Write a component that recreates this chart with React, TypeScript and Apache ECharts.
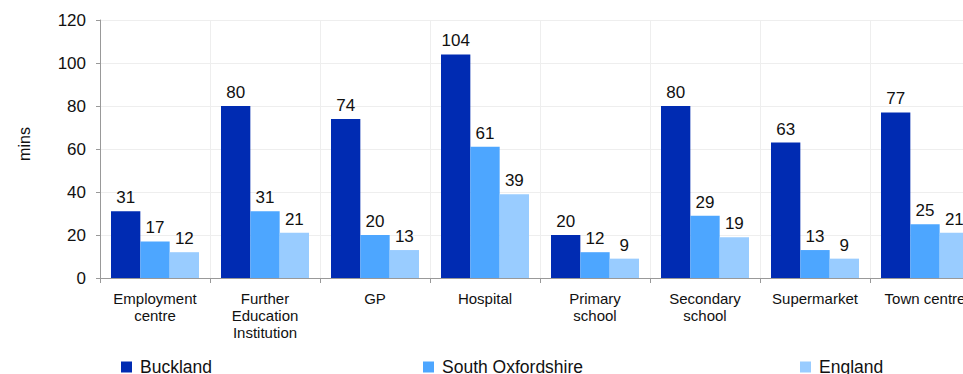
import React, { useEffect, useRef } from "react";
import * as echarts from "echarts";

const categories = [
  "Employment\ncentre",
  "Further\nEducation\nInstitution",
  "GP",
  "Hospital",
  "Primary\nschool",
  "Secondary\nschool",
  "Supermarket",
  "Town centre",
];
const buckland = [31, 80, 74, 104, 20, 80, 63, 77];
const southOxfordshire = [17, 31, 20, 61, 12, 29, 13, 25];
const england = [12, 21, 13, 39, 9, 19, 9, 21];
const seriesNames = ["Buckland", "South Oxfordshire", "England"];
const colors = ["#002BB2", "#4DA6FF", "#99CCFF"];

export default function App() {
  const ref = useRef<HTMLDivElement>(null);
  useEffect(() => {
    document.body.style.margin = "0";
    document.body.style.overflow = "hidden";
    const chart = echarts.init(ref.current!, null, { renderer: "svg" });
    const font = "'Liberation Sans', Arial, sans-serif";
    const mk = (name: string, data: number[], color: string) => ({
      name,
      type: "bar",
      data,
      barGap: "0%",
      barCategoryGap: "20%",
      itemStyle: { color },
      label: {
        show: true,
        position: "top",
        distance: 5,
        fontSize: 17,
        fontFamily: font,
        color: "#111",
      },
    });
    const legendLefts = [121, 423, 800];
    chart.setOption({
      animation: false,
      textStyle: { fontFamily: font },
      grid: { left: 100, right: 0, top: 20, bottom: 96 },
      legend: seriesNames.map((n, i) => ({
        data: [n],
        left: legendLefts[i],
        top: 358,
        padding: 0,
        icon: "rect",
        itemWidth: 11,
        itemHeight: 11,
        textStyle: {
          fontSize: 17.5,
          fontFamily: font,
          color: "#111",
          padding: [0, 0, 0, 3],
        },
        selectedMode: false,
      })),
      xAxis: {
        type: "category",
        data: categories,
        axisLine: { show: true, lineStyle: { color: "#999" } },
        axisTick: { show: true, alignWithLabel: false, length: 5, lineStyle: { color: "#999" } },
        splitLine: { show: true, lineStyle: { color: "#eeeeee" } },
        axisLabel: {
          interval: 0,
          fontSize: 15,
          lineHeight: 17,
          margin: 12,
          color: "#111",
          fontFamily: font,
        },
      },
      yAxis: {
        type: "value",
        min: 0,
        max: 120,
        interval: 20,
        name: "mins",
        nameLocation: "middle",
        nameGap: 68,
        nameRotate: 90,
        nameTextStyle: { fontSize: 16, color: "#111", fontFamily: font, padding: [0, 0, 0, 10] },
        axisLine: { show: true, lineStyle: { color: "#999" } },
        axisTick: { show: true, length: 4, lineStyle: { color: "#999" } },
        splitLine: { show: true, lineStyle: { color: "#eeeeee" } },
        axisLabel: { fontSize: 17, margin: 14, color: "#111", fontFamily: font },
      },
      series: [
        mk(seriesNames[0], buckland, colors[0]),
        mk(seriesNames[1], southOxfordshire, colors[1]),
        mk(seriesNames[2], england, colors[2]),
      ],
    });
    return () => chart.dispose();
  }, []);
  return <div ref={ref} style={{ width: 980, height: 374 }} />;
}
